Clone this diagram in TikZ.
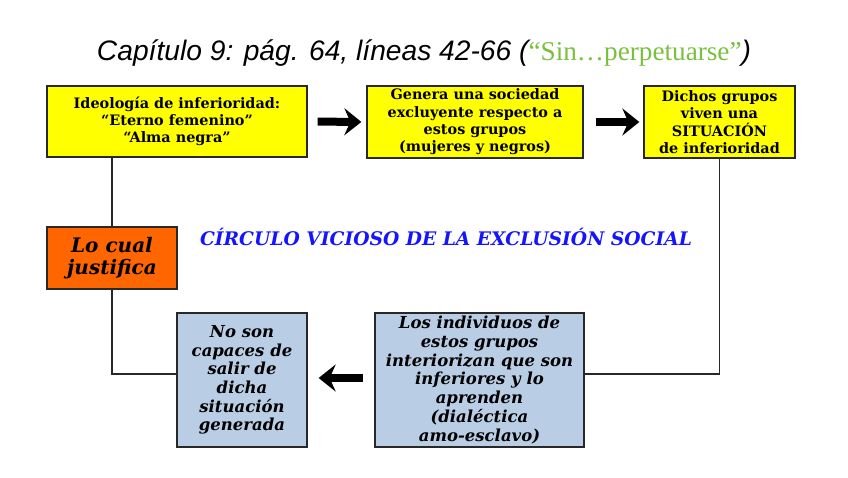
\documentclass[tikz,border=0pt]{standalone}
\usepackage{fontspec}
\setmainfont{DejaVu Serif}
\newfontfamily\titlefont{Liberation Sans}
\newfontfamily\greenfont{Liberation Serif}
\usetikzlibrary{arrows.meta}
\definecolor{boxyellow}{RGB}{255,255,0}
\definecolor{boxorange}{RGB}{255,102,0}
\definecolor{boxblue}{RGB}{185,205,229}
\definecolor{titlegreen}{RGB}{122,192,62}
\definecolor{cycleblue}{RGB}{20,20,255}
\definecolor{edge}{RGB}{40,40,40}
\tikzset{
  base/.style={draw=edge, line width=1.3pt, align=center, inner sep=0pt, anchor=center},
  ybox/.style={base, fill=boxyellow, font=\fontsize{14.4}{17.3}\selectfont\bfseries},
  obox/.style={base, fill=boxorange, font=\fontsize{20}{22.5}\selectfont\bfseries\itshape},
  bbox/.style={base, fill=boxblue, font=\fontsize{16.5}{18.7}\selectfont\bfseries\itshape},
  link/.style={draw=edge, line width=1.3pt},
  bigarrow/.style={line width=8pt, -{Stealth[length=17pt,width=27pt,inset=6pt]}},
}
\begin{document}
\begin{tikzpicture}[x=1pt,y=-1pt]
\useasboundingbox (0,0) rectangle (848,477);
\node[font=\titlefont\fontsize{28.2}{30}\selectfont\itshape, anchor=center] (title) at (424,53)
  {Capítulo 9: pág. 64, líneas 42-66 ({\normalfont\greenfont\fontsize{27.2}{30}\selectfont\color{titlegreen}“Sin…perpetuarse”})};
\node[ybox, minimum width=260pt, minimum height=71pt] (b1) at (177,121.5)
  {Ideología de inferioridad:\\“Eterno femenino”\\“Alma negra”};
\node[ybox, minimum width=216pt, minimum height=72pt] (b2) at (475,122)
  {Genera una sociedad\\excluyente respecto a\\estos grupos\\(mujeres y negros)};
\node[ybox, minimum width=151pt, minimum height=72pt] (b3) at (719.5,122)
  {Dichos grupos\\viven una\\SITUACIÓN\\de inferioridad};
\node[obox, minimum width=130pt, minimum height=62pt] (or) at (112,258)
  {Lo cual\\justifica};
\node[bbox, minimum width=130pt, minimum height=134pt] (lb) at (242,380)
  {No son\\capaces de\\salir de\\dicha\\situación\\generada};
\node[bbox, minimum width=209pt, minimum height=134pt] (rb) at (479.5,380)
  {Los individuos de\\estos grupos\\interiorizan que son\\inferiores y lo\\aprenden\\(dialéctica\\amo-esclavo)};
\node[font=\fontsize{18.7}{20}\selectfont\bfseries\itshape, text=cycleblue, anchor=center] (cyc) at (446,237)
  {CÍRCULO VICIOSO DE LA EXCLUSIÓN SOCIAL};
\coordinate (loopy) at (0,374);
\draw[link] (or.north |- b1.south) -- (or.north);
\draw[link] (or.south) |- (lb.west |- loopy);
\draw[link] (b3.south) |- (rb.east |- loopy);
\draw[bigarrow, shorten <=10pt, shorten >=5pt] (b1.east) -- (b2.west);
\draw[bigarrow, shorten <=12pt, shorten >=4pt] (b2.east) -- (b3.west);
\draw[bigarrow, shorten <=11pt, shorten >=11pt] (rb.west |- 0,378) -- (lb.east |- 0,378);
\end{tikzpicture}
\end{document}
